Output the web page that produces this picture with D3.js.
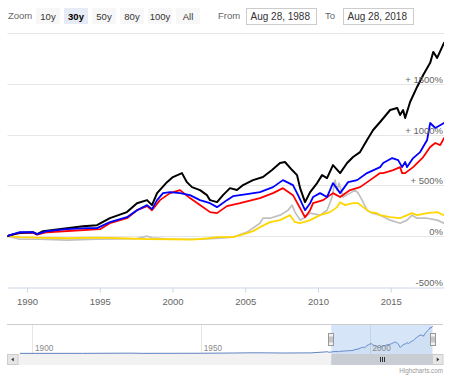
<!DOCTYPE html>
<html><head><meta charset="utf-8">
<script src="https://cdn.jsdelivr.net/npm/d3@7"></script>
<style>
html,body{margin:0;padding:0;background:#fff;}
svg{display:block;font-family:"Liberation Sans",Arial,Helvetica,sans-serif;}
</style></head><body>
<svg id="c" width="451" height="376"></svg>
<script>
// ---------- data ----------
const rangeButtons = ["10y", "30y", "50y", "80y", "100y", "All"];
const selectedButton = "30y";
const fromDate = "Aug 28, 1988";
const toDate = "Aug 28, 2018";
const xTickYears = [1990, 1995, 2000, 2005, 2010, 2015];
const yGridValues = [-500, 0, 500, 1000, 1500, 2000];
const yLabelValues = [-500, 0, 500, 1000, 1500];
const navTickYears = [1900, 1950, 2000];

// [decimal year, % change]
const blackSeries = [
  [1988.66,0],[1988.83,10],[1989.5,35],[1990.41,40],[1990.69,20],[1991.1,49],[1992.75,79],
  [1993.85,99],[1994.81,108],[1995.7,178],[1996.87,237],[1997.56,325],[1998.25,355],[1998.59,306],
  [1998.94,424],[1999.62,532],[2000.03,582],[2000.65,621],[2000.99,532],[2001.34,483],[2001.89,454],
  [2002.37,404],[2002.58,355],[2003.06,335],[2003.47,404],[2003.95,473],[2004.43,454],[2004.85,503],
  [2005.53,552],[2006.22,582],[2006.84,651],[2007.39,720],[2007.73,730],[2008.22,651],[2008.56,601],
  [2008.77,473],[2009.11,335],[2009.46,434],[2009.94,523],[2010.28,601],[2010.62,572],[2011.03,700],
  [2011.52,621],[2012.0,720],[2012.41,779],[2012.89,828],[2013.37,947],[2013.79,1045],[2014.27,1124],
  [2014.96,1242],[2015.44,1262],[2015.64,1193],[2015.85,1242],[2015.99,1163],[2016.33,1321],
  [2016.81,1469],[2017.23,1587],[2017.71,1706],[2017.92,1814],[2018.19,1755],[2018.66,1903]
];
const blueSeries = [
  [1988.66,0],[1988.83,10],[1989.52,39],[1990.41,39],[1990.69,20],[1991.37,49],[1992.75,69],
  [1994.12,79],[1994.81,79],[1995.7,138],[1996.87,187],[1997.56,256],[1998.25,306],[1998.59,266],
  [1998.94,355],[1999.35,424],[1999.83,434],[2000.52,424],[2001.2,404],[2001.89,355],[2002.58,325],
  [2003.06,286],[2003.74,355],[2004.16,394],[2005.12,414],[2006.01,434],[2006.91,483],[2007.59,552],
  [2008.28,503],[2008.63,404],[2009.11,256],[2009.46,325],[2009.66,385],[2010.14,424],[2010.62,385],
  [2011.03,523],[2011.52,424],[2012.07,532],[2012.69,552],[2013.37,621],[2014.27,680],[2014.48,720],
  [2015.1,769],[2015.51,749],[2015.78,680],[2015.99,730],[2016.12,680],[2016.54,769],[2017.02,828],
  [2017.5,947],[2017.71,1114],[2018.06,1065],[2018.66,1114]
];
const redSeries = [
  [1988.66,0],[1988.83,10],[1989.52,30],[1990.41,35],[1990.69,15],[1991.37,39],[1995.02,69],
  [1995.7,128],[1996.87,177],[1997.56,256],[1998.25,296],[1998.59,256],[1999.14,355],[1999.83,424],
  [2000.52,454],[2001.2,375],[2001.89,306],[2002.58,237],[2003.06,227],[2003.74,296],[2004.64,325],
  [2006.01,375],[2006.91,424],[2007.59,473],[2008.28,404],[2008.77,276],[2009.11,187],[2009.46,256],
  [2009.66,325],[2010.35,355],[2011.03,424],[2011.52,385],[2012.21,454],[2012.89,483],[2013.58,552],
  [2014.27,621],[2014.48,621],[2015.17,651],[2015.64,680],[2015.78,621],[2015.99,621],[2016.54,680],
  [2017.23,779],[2017.71,878],[2018.06,917],[2018.4,897],[2018.66,966]
];
const yellowSeries = [
  [1988.66,0],[1989.5,-10],[1990.5,-15],[1992.75,-20],[1994.81,-15],[1996.5,-20],[1998.25,-28],
  [2000.03,-30],[2001.34,-33],[2002.5,-20],[2003.06,-10],[2004.16,-10],[2005.12,30],[2005.53,50],
  [2006.01,89],[2006.7,138],[2007.39,158],[2008.08,207],[2008.42,138],[2008.77,128],[2009.46,158],
  [2010.14,207],[2010.83,237],[2011.31,286],[2011.52,335],[2011.86,306],[2012.41,325],[2012.76,325],
  [2013.1,286],[2013.58,237],[2014.06,227],[2014.27,207],[2014.96,187],[2015.64,177],[2016.12,207],
  [2016.47,227],[2016.81,207],[2017.5,227],[2018.19,237],[2018.66,207]
];
const graySeries = [
  [1988.66,0],[1989.5,-30],[1990.89,-30],[1992.75,-39],[1994.81,-30],[1997.5,-25],[1998.25,0],
  [1998.59,-15],[2000.03,-30],[2001.89,-30],[2003.26,-20],[2004.16,-10],[2005.12,40],[2006.01,128],
  [2006.22,177],[2006.7,177],[2007.39,207],[2007.94,256],[2008.22,306],[2008.42,237],[2008.77,158],
  [2009.11,187],[2009.46,227],[2010.14,207],[2010.62,256],[2010.97,385],[2011.17,552],[2011.31,454],
  [2011.45,523],[2011.72,385],[2012.21,424],[2012.55,454],[2012.76,424],[2013.03,355],[2013.37,256],
  [2013.72,227],[2014.27,207],[2014.96,158],[2015.64,128],[2016.12,158],[2016.47,207],[2016.81,177],
  [2017.5,177],[2018.19,158],[2018.66,128]
];
// navigator history before the selected range (index units, Aug 1988 = 1)
const navHistory = [
  [1896.4,0.02],[1915,0.04],[1929.6,0.18],[1932.5,0.03],[1950,0.1],[1960,0.3],[1966,0.45],
  [1974.9,0.28],[1982.6,0.38],[1987.6,1.2],[1987.9,0.85]
];

const seriesList = [
  {name: "gray", data: graySeries, color: "#c0c0c0", width: 1.7},
  {name: "yellow", data: yellowSeries, color: "#ffd700", width: 1.8},
  {name: "red", data: redSeries, color: "#ff0000", width: 1.8},
  {name: "black", data: blackSeries, color: "#000000", width: 2},
  {name: "blue", data: blueSeries, color: "#0000ff", width: 1.8}
];

// ---------- layout ----------
const svg = d3.select("#c");
const plot = {left: 7.5, right: 444, top: 33, bottom: 287};
const x = d3.scaleLinear().domain([1988.66, 2018.66]).range([plot.left, plot.right]);
const y = d3.scaleLinear().domain([-500, 2000]).range([plot.bottom, plot.top]);

// ---------- range selector ----------
const rs = svg.append("g");
rs.append("text").attr("x", 8).attr("y", 19).attr("font-size", 9.5).attr("fill", "#666").text("Zoom");
rangeButtons.forEach((b, i) => {
  const bx = 36 + i * 28;
  const sel = b === selectedButton;
  rs.append("rect").attr("x", bx).attr("y", 8).attr("width", 24).attr("height", 16)
    .attr("fill", sel ? "#e6ebf5" : "#f7f7f7");
  rs.append("text").attr("x", bx + 12).attr("y", 19.5).attr("text-anchor", "middle")
    .attr("font-size", 9.5).attr("font-weight", sel ? "bold" : "normal")
    .attr("fill", sel ? "#000" : "#333").text(b);
});
rs.append("text").attr("x", 218).attr("y", 19).attr("font-size", 9.5).attr("fill", "#666").text("From");
rs.append("rect").attr("x", 246.5).attr("y", 8.5).attr("width", 70).attr("height", 16)
  .attr("fill", "#fff").attr("stroke", "#cccccc");
rs.append("text").attr("x", 250.5).attr("y", 20).attr("font-size", 10).attr("fill", "#333").text(fromDate);
rs.append("text").attr("x", 325).attr("y", 19).attr("font-size", 9.5).attr("fill", "#666").text("To");
rs.append("rect").attr("x", 343.5).attr("y", 8.5).attr("width", 70).attr("height", 16)
  .attr("fill", "#fff").attr("stroke", "#cccccc");
rs.append("text").attr("x", 347.5).attr("y", 20).attr("font-size", 10).attr("fill", "#333").text(toDate);

// ---------- grid ----------
const grid = svg.append("g");
grid.selectAll("line").data(yGridValues.filter(v => v !== -500)).join("line")
  .attr("x1", plot.left).attr("x2", plot.right)
  .attr("y1", d => Math.round(y(d)) + 0.5).attr("y2", d => Math.round(y(d)) + 0.5)
  .attr("stroke", "#e6e6e6").attr("stroke-width", 1);

// ---------- series ----------
svg.append("defs").append("clipPath").attr("id", "clip").append("rect")
  .attr("x", plot.left).attr("y", plot.top - 2).attr("width", plot.right - plot.left)
  .attr("height", plot.bottom - plot.top + 2);
const line = d3.line().x(d => x(d[0])).y(d => y(d[1]));
const sg = svg.append("g").attr("clip-path", "url(#clip)");
seriesList.forEach(s => {
  sg.append("path").datum(s.data).attr("d", line).attr("fill", "none")
    .attr("stroke", s.color).attr("stroke-width", s.width)
    .attr("stroke-linejoin", "round").attr("stroke-linecap", "round");
});

// ---------- x axis ----------
const xAxis = d3.axisBottom(x).tickValues(xTickYears).tickFormat(d3.format("d"))
  .tickSize(5).tickPadding(6).tickSizeOuter(0);
const xg = svg.append("g").attr("transform", `translate(0,${Math.round(plot.bottom) + 0.5})`).call(xAxis);
xg.select(".domain").attr("stroke", "#ccd6eb");
xg.selectAll(".tick line").attr("stroke", "#ccd6eb");
xg.selectAll(".tick text").attr("fill", "#666").attr("font-size", 9.5)
  .attr("font-family", '"Liberation Sans",Arial,sans-serif');

// ---------- y labels ----------
svg.append("g").selectAll("text").data(yLabelValues).join("text")
  .attr("x", 443).attr("y", d => Math.round(y(d)) - 1).attr("text-anchor", "end")
  .attr("font-size", 9.5).attr("fill", "#666")
  .text(d => (d > 0 ? "+ " : "") + d + "%");

// ---------- navigator ----------
const nav = {left: 19.9, right: 432.5, top: 324, bottom: 354};
const nx = d3.scaleLinear().domain([1896.4, 2018.66]).range([nav.left, nav.right]);
const ny = d3.scaleLinear().domain([0, 20.2]).range([353.4, 326]);
const navData = navHistory.concat(blackSeries.map(d => [d[0], 1 + d[1] / 100]));
const ng = svg.append("g");
ng.selectAll("line.g").data(navTickYears).join("line").attr("class", "g")
  .attr("x1", d => Math.round(nx(d)) + 0.5).attr("x2", d => Math.round(nx(d)) + 0.5)
  .attr("y1", nav.top).attr("y2", nav.bottom).attr("stroke", "#e6e6e6");
ng.append("path").datum(navData)
  .attr("d", d3.area().x(d => nx(d[0])).y0(nav.bottom).y1(d => ny(d[1])))
  .attr("fill", "rgba(51,92,173,0.05)");
ng.append("path").datum(navData)
  .attr("d", d3.line().x(d => nx(d[0])).y(d => ny(d[1])))
  .attr("fill", "none").attr("stroke", "#5f82c0").attr("stroke-width", 1);
const selL = nx(1988.66), selR = nx(2018.66);
ng.append("rect").attr("x", selL).attr("y", nav.top).attr("width", selR - selL)
  .attr("height", nav.bottom - nav.top).attr("fill", "rgba(120,170,230,0.3)");
ng.selectAll("text").data(navTickYears).join("text")
  .attr("x", d => nx(d) + 3).attr("y", 351).attr("font-size", 8.2).attr("fill", "#888")
  .text(d => d);
ng.append("line").attr("x1", 7).attr("x2", 443).attr("y1", nav.top + 0.5).attr("y2", nav.top + 0.5)
  .attr("stroke", "#cccccc");
[selL, selR].forEach(hx => {
  ng.append("rect").attr("x", Math.round(hx) - 2.5).attr("y", 333.5).attr("width", 5).attr("height", 12)
    .attr("fill", "#f2f2f2").attr("stroke", "#999").attr("stroke-width", 1);
  [-0.5, 1.5].forEach(o => ng.append("line")
    .attr("x1", Math.round(hx) + o - 0.5).attr("x2", Math.round(hx) + o - 0.5)
    .attr("y1", 336.5).attr("y2", 342.5).attr("stroke", "#999"));
});

// ---------- scrollbar ----------
const sb = svg.append("g");
sb.append("rect").attr("x", 7).attr("y", 354).attr("width", 436).attr("height", 11).attr("fill", "#f2f2f2");
sb.append("rect").attr("x", selL).attr("y", 354).attr("width", selR - selL).attr("height", 11)
  .attr("fill", "#c8ccd3");
const mid = (selL + selR) / 2;
[-2, 0, 2].forEach(o => sb.append("line").attr("x1", Math.round(mid) + o + 0.5).attr("x2", Math.round(mid) + o + 0.5)
  .attr("y1", 357).attr("y2", 362).attr("stroke", "#333").attr("stroke-width", 1));
[[7.5, -1], [432.5, 1]].forEach(([bx, dir]) => {
  sb.append("rect").attr("x", bx).attr("y", 354.5).attr("width", 10.5).attr("height", 10)
    .attr("fill", "#e6e6e6").attr("stroke", "#cccccc");
  const cx = bx + 5.25, cy = 359.5;
  sb.append("path").attr("d", dir < 0
      ? `M${cx + 1},${cy - 2}L${cx - 1.5},${cy}L${cx + 1},${cy + 2}Z`
      : `M${cx - 1},${cy - 2}L${cx + 1.5},${cy}L${cx - 1},${cy + 2}Z`)
    .attr("fill", "#333");
});

// ---------- credits ----------
svg.append("text").attr("x", 443).attr("y", 372.5).attr("text-anchor", "end")
  .attr("font-size", 6.3).attr("fill", "#999").text("Highcharts.com");
</script>
</body></html>
